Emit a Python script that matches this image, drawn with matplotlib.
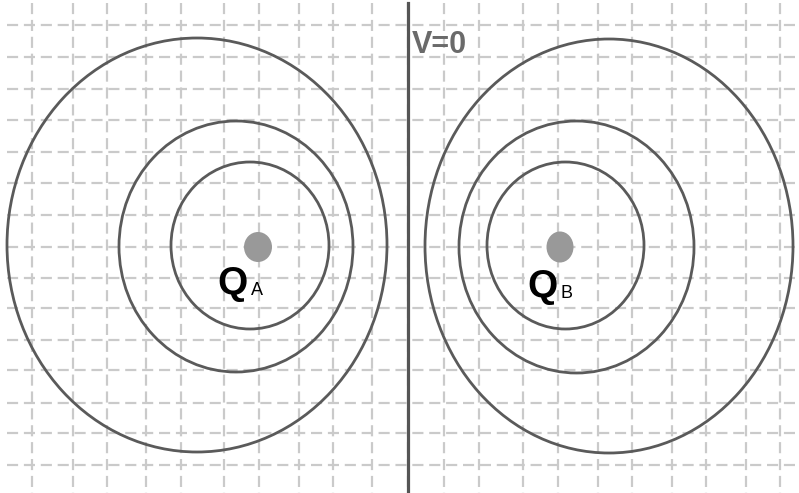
import matplotlib
matplotlib.use("Agg")
import matplotlib.pyplot as plt
from matplotlib.patches import Ellipse

# ---- data (pixel-space coordinates of the drawing) ----
W, H = 799, 493
grid_x = [32, 73, 107, 146, 181, 224, 259, 299, 333, 372, 408, 444, 479, 523, 558, 598, 632, 672, 706, 746, 780]
grid_y = [25, 57, 89, 120, 152, 183, 215, 247, 278, 308, 340, 370, 403, 433, 465]

# equipotential curves around charge A (inner, middle, outer)
a_cx = [250, 236, 197]
a_cy = [245.5, 246.5, 245]
a_rx = [79, 117, 190]
a_ry = [83.5, 125.5, 207]
# equipotential curves around charge B
b_cx = [565.5, 576.5, 609]
b_cy = [245.5, 247, 246]
b_rx = [78.5, 117.5, 184]
b_ry = [83.5, 126, 207]

charges_x = [258, 560]
charges_y = [247, 247]
charge_w = [28, 27]
charge_h = [30, 31]
charge_names = ["A", "B"]
label_x = [217, 527]
label_y = [294, 297]

zero_line_x = 408
zero_label = "V=0"

fig = plt.figure(figsize=(W / 100, H / 100), dpi=100)
ax = fig.add_axes([0, 0, 1, 1])
ax.set_xlim(0, W)
ax.set_ylim(H, 0)
ax.axis("off")

grid_color = "#cacaca"
dash = (0, (5.0, 2.6))
for x in grid_x:
    ax.plot([x, x], [3, H], color=grid_color, lw=1.6, ls=dash, zorder=1)
for y in grid_y:
    ax.plot([7, W], [y, y], color=grid_color, lw=1.6, ls=dash, zorder=1)

curve_color = "#5a5a5a"
for cx, cy, rx, ry in zip(a_cx + b_cx, a_cy + b_cy, a_rx + b_rx, a_ry + b_ry):
    ax.add_patch(Ellipse((cx, cy), 2 * rx, 2 * ry, fill=False,
                         edgecolor=curve_color, lw=2.0, zorder=3))

ax.plot([zero_line_x, zero_line_x], [3, H], color="#555555", lw=2.3, zorder=4)
ax.text(zero_line_x + 4, 53, zero_label, fontsize=22, fontweight="bold", color="#6a6a6a",
        family="Liberation Sans", va="baseline", ha="left", zorder=5)

for x, y, w, h in zip(charges_x, charges_y, charge_w, charge_h):
    ax.add_patch(Ellipse((x, y), w, h, facecolor="#999999", edgecolor="none", zorder=5))

for name, lx, ly in zip(charge_names, label_x, label_y):
    ax.text(lx, ly, "Q", fontsize=28, fontweight="bold", color="black",
            family="Liberation Sans", va="baseline", ha="left", zorder=6)
    ax.text(lx + 34, ly + 1, name, fontsize=13, color="black",
            family="Liberation Sans", va="baseline", ha="left", zorder=6)

fig.savefig("out.png", dpi=100, facecolor="white")
